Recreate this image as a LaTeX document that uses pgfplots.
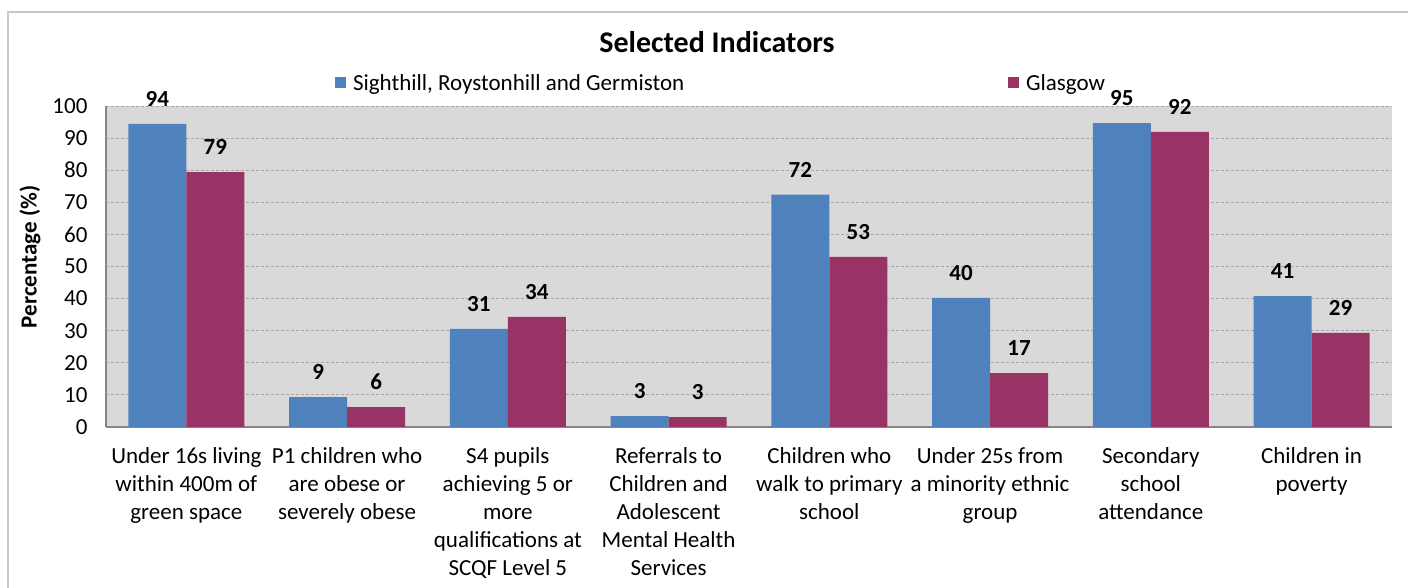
\documentclass[border=0pt]{standalone}
\usepackage{pgfplots}
\pgfplotsset{compat=1.18}
\usepackage{fontspec}
\setmainfont{Carlito}
\definecolor{cblue}{HTML}{4F81BD}
\definecolor{cmaroon}{HTML}{993366}
\definecolor{plotbg}{HTML}{D9D9D9}
\definecolor{axgray}{HTML}{868686}
\definecolor{gridgray}{HTML}{A6A6A6}
\definecolor{framegray}{HTML}{C8C8C8}
\newcommand{\lab}{\fontsize{23}{28}\selectfont}
\begin{document}
\begin{tikzpicture}[x=1pt,y=1pt]
\useasboundingbox (0,0) rectangle (1408,588);
\fill[white] (0,0) rectangle (1408,588);
\draw[framegray, line width=1.5pt] (8,-20) -- (8,576) -- (1430,576);
\node[font=\fontsize{30}{36}\selectfont\bfseries] at (717,546) {Selected Indicators};
\begin{axis}[
  at={(106pt,161pt)}, anchor=south west,
  width=1286pt, height=321pt, scale only axis,
  /pgf/number format/assume math mode=true,
  font=\lab,
  ybar=0pt, bar width=58pt,
  xmin=-0.5, xmax=7.5, ymin=0, ymax=100,
  xtick={0,...,7},
  xticklabels={
    {Under 16s living\\within 400m of\\green space},
    {P1 children who\\are obese or\\severely obese},
    {S4 pupils\\achieving 5 or\\more\\qualifications at\\SCQF Level 5},
    {Referrals to\\Children and\\Adolescent\\Mental Health\\Services},
    {Children who\\walk to primary\\school},
    {Under 25s from\\a minority ethnic\\group},
    {Secondary\\school\\attendance},
    {Children in\\poverty}},
  xticklabel style={align=center, anchor=north, yshift=-17pt, font=\lab},
  ytick={0,10,...,100},
  yticklabel style={xshift=-15pt, font=\lab},
  major tick length=0pt,
  xtick style={draw=none}, ytick style={draw=none},
  axis x line*=bottom, axis y line*=left,
  axis line style={axgray, line width=1.2pt, -},
  axis background/.style={fill=plotbg},
  ymajorgrids,
  major grid style={gridgray, dash pattern=on 3pt off 2pt, line width=0.9pt},
  ylabel={\lab\bfseries Percentage (\%)},
  ylabel style={at={(axis description cs:-0.059,0.53)}, anchor=center, font=\lab\bfseries},
  nodes near coords={\lab\bfseries\pgfmathprintnumber[fixed,precision=0]{\pgfplotspointmeta}},
  every node near coord/.append style={font=\lab\bfseries, anchor=south, inner sep=0pt, yshift=17pt, text=black},
  legend columns=2,
  legend style={at={(axis description cs:0.178,1.0717)}, anchor=west, draw=none, fill=none, inner sep=0pt,
    nodes={inner sep=0pt, anchor=west}, font=\lab},
  legend cell align=left,
  legend image code/.code={\fill[#1] (0pt,-5.5pt) rectangle (11pt,5.5pt); \path (18pt,0pt);},
]
\addplot[fill=cblue, draw=none] coordinates {(0,94.4) (1,9.3) (2,30.6) (3,3.4) (4,72.4) (5,40.2) (6,94.7) (7,40.8)};
\addlegendentry{\makebox[655pt][l]{Sighthill, Roystonhill and Germiston}}
\addplot[fill=cmaroon, draw=none] coordinates {(0,79.4) (1,6.2) (2,34.3) (3,3.1) (4,53.0) (5,16.8) (6,91.9) (7,29.3)};
\addlegendentry{Glasgow}
\end{axis}
\end{tikzpicture}
\end{document}
